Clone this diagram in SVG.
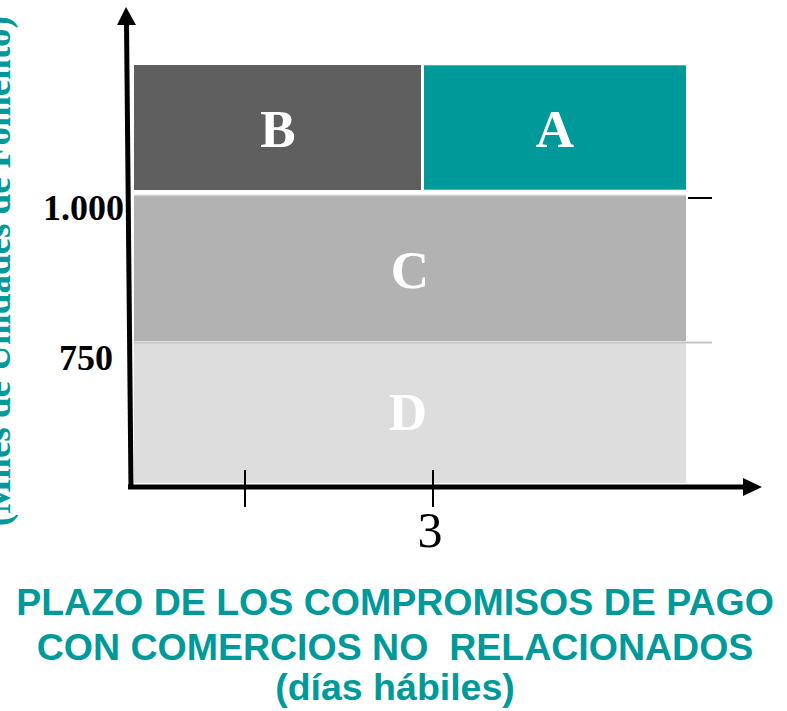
<svg xmlns="http://www.w3.org/2000/svg" width="787" height="711" viewBox="0 0 787 711">
<style>
.lbl{font-family:"Liberation Serif","Times New Roman",serif;font-weight:bold;fill:#ffffff;font-size:53px;text-anchor:middle}
.num{font-family:"Liberation Serif","Times New Roman",serif;font-weight:bold;fill:#000000;font-size:36px;text-anchor:end}
.title{font-family:"Liberation Sans",Arial,sans-serif;font-weight:bold;fill:#009999;font-size:37.5px;text-anchor:middle}
.axis{stroke:#000;stroke-width:5;fill:none}
.tick{stroke:#000;stroke-width:2;fill:none}
</style>
<rect width="787" height="711" fill="#ffffff"/>
<g id="ylabel">
<text transform="translate(10,271) rotate(-90)" font-family="'Liberation Serif','Times New Roman',serif" font-weight="bold" font-size="37" fill="#009999" text-anchor="middle">(Miles de Unidades de Fomento)</text>
</g>
<g id="D">
<rect x="134" y="343" width="552" height="140" fill="#dddddd"/>
<text class="lbl" x="408" y="430">D</text>
</g>
<g id="C">
<rect x="134" y="196" width="552" height="145" fill="#b2b2b2"/>
<text class="lbl" x="410" y="288">C</text>
</g>
<g id="B">
<rect x="134" y="65" width="287" height="125" fill="#5f5f5f"/>
<text class="lbl" x="278" y="147">B</text>
</g>
<g id="A">
<rect x="424" y="65" width="262" height="125" fill="#009999"/>
<line x1="424" y1="65.5" x2="686" y2="65.5" stroke="#4dbaba" stroke-width="1"/>
<line x1="424" y1="189.5" x2="686" y2="189.5" stroke="#4dbaba" stroke-width="1"/>
<text class="lbl" x="555" y="147">A</text>
</g>
<g id="connectors">
<line x1="134" y1="195.5" x2="686" y2="195.5" stroke="#d0d0d0" stroke-width="1.5"/>
<line x1="688" y1="198" x2="712" y2="198" stroke="#000" stroke-width="2"/>
<line x1="134" y1="342.5" x2="712" y2="342.5" stroke="#c4c4c4" stroke-width="2"/>
<line class="axis" x1="131" y1="488" x2="126.5" y2="22"/>
<polygon points="126,7 117,25 136,25" fill="#000"/>
<line class="axis" x1="128" y1="487" x2="745" y2="487"/>
<polygon points="762,487 743,478 743,496" fill="#000"/>
<line class="tick" x1="245" y1="470" x2="245" y2="507"/>
<line class="tick" x1="433" y1="470" x2="433" y2="507"/>
</g>
<g id="axislabels">
<text class="num" x="124" y="220">1.000</text>
<text class="num" x="113" y="370">750</text>
<text x="430" y="547" font-family="'Liberation Serif','Times New Roman',serif" font-size="50" text-anchor="middle" fill="#000">3</text>
</g>
<g id="title">
<text class="title" x="395" y="615">PLAZO DE LOS COMPROMISOS DE PAGO</text>
<text class="title" x="395" y="660" xml:space="preserve">CON COMERCIOS NO  RELACIONADOS</text>
<text class="title" x="395" y="700">(días hábiles)</text>
</g>
</svg>
